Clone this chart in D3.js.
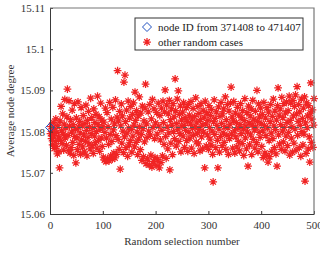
<!DOCTYPE html>
<html>
<head>
<meta charset="utf-8">
<script src="https://cdn.jsdelivr.net/npm/d3@7"></script>
<style>
  body { margin: 0; background: #fff; }
  svg { display: block; }
  text { font-family: "Liberation Serif", "Times New Roman", serif; }
</style>
</head>
<body>
<div id="chart"></div>
<script>
// tick labels
const xTicks = [0, 100, 200, 300, 400, 500];
const yTicks = [15.06, 15.07, 15.08, 15.09, 15.1, 15.11];

// the chosen node range (blue diamond + dashed reference)
const targetX = [0];
const targetY = [15.0810];

// other random cases, selection 1..500
const randomY = [
  15.0795, 15.0812, 15.0783, 15.0801, 15.0768, 15.0822, 15.0790, 15.0759, 15.0808, 15.0776,
  15.0831, 15.0764, 15.0798, 15.0746, 15.0815, 15.0787, 15.0752, 15.0712, 15.0826, 15.0779,
  15.0861, 15.0802, 15.0771, 15.0843, 15.0794, 15.0755, 15.0818, 15.0878, 15.0785, 15.0809,
  15.0767, 15.0836, 15.0903, 15.0791, 15.0754, 15.0875, 15.0813, 15.0748, 15.0829, 15.0761,
  15.0799, 15.0852, 15.0774, 15.0817, 15.0742, 15.0868, 15.0788, 15.0805, 15.0724, 15.0833,
  15.0784, 15.0756, 15.0872, 15.0811, 15.0769, 15.0825, 15.0797, 15.0745, 15.0858, 15.0780,
  15.0814, 15.0763, 15.0839, 15.0792, 15.0751, 15.0820, 15.0776, 15.0864, 15.0803, 15.0741,
  15.0827, 15.0786, 15.0849, 15.0770, 15.0812, 15.0758, 15.0881, 15.0795, 15.0834, 15.0766,
  15.0808, 15.0747, 15.0855, 15.0789, 15.0822, 15.0773, 15.0842, 15.0800, 15.0760, 15.0886,
  15.0817, 15.0779, 15.0836, 15.0752, 15.0806, 15.0869, 15.0785, 15.0828, 15.0764, 15.0811,
  15.0738, 15.0823, 15.0731, 15.0798, 15.0857, 15.0727, 15.0784, 15.0846, 15.0735, 15.0812,
  15.0769, 15.0729, 15.0871, 15.0793, 15.0741, 15.0830, 15.0776, 15.0733, 15.0859, 15.0804,
  15.0748, 15.0819, 15.0736, 15.0877, 15.0790, 15.0745, 15.0835, 15.0948, 15.0781, 15.0826,
  15.0757, 15.0849, 15.0709, 15.0814, 15.0867, 15.0772, 15.0838, 15.0801, 15.0749, 15.0920,
  15.0787, 15.0937, 15.0824, 15.0761, 15.0852, 15.0796, 15.0740, 15.0874, 15.0809, 15.0768,
  15.0833, 15.0778, 15.0861, 15.0805, 15.0750, 15.0842, 15.0789, 15.0870, 15.0816, 15.0763,
  15.0896, 15.0827, 15.0774, 15.0851, 15.0799, 15.0744, 15.0838, 15.0782, 15.0884, 15.0812,
  15.0756, 15.0845, 15.0793, 15.0730, 15.0862, 15.0807, 15.0739, 15.0826, 15.0775, 15.0857,
  15.0915, 15.0722, 15.0819, 15.0786, 15.0734, 15.0848, 15.0801, 15.0719, 15.0866, 15.0792,
  15.0743, 15.0831, 15.0714, 15.0878, 15.0810, 15.0727, 15.0855, 15.0783, 15.0737, 15.0821,
  15.0718, 15.0846, 15.0794, 15.0732, 15.0869, 15.0813, 15.0712, 15.0839, 15.0780, 15.0725,
  15.0857, 15.0803, 15.0741, 15.0874, 15.0822, 15.0769, 15.0848, 15.0901, 15.0788, 15.0735,
  15.0864, 15.0811, 15.0758, 15.0843, 15.0797, 15.0876, 15.0707, 15.0829, 15.0772, 15.0855,
  15.0816, 15.0744, 15.0868, 15.0800, 15.0836, 15.0783, 15.0928, 15.0851, 15.0765, 15.0820,
  15.0879, 15.0806, 15.0899, 15.0776, 15.0842, 15.0795, 15.0862, 15.0751, 15.0828, 15.0813,
  15.0847, 15.0789, 15.0870, 15.0815, 15.0762, 15.0834, 15.0803, 15.0858, 15.0778, 15.0825,
  15.0752, 15.0866, 15.0798, 15.0840, 15.0784, 15.0819, 15.0873, 15.0760, 15.0831, 15.0808,
  15.0856, 15.0791, 15.0747, 15.0837, 15.0812, 15.0882, 15.0775, 15.0823, 15.0796, 15.0861,
  15.0770, 15.0844, 15.0805, 15.0753, 15.0829, 15.0868, 15.0787, 15.0816, 15.0758, 15.0852,
  15.0799, 15.0835, 15.0712, 15.0874, 15.0818, 15.0765, 15.0846, 15.0792, 15.0827, 15.0757,
  15.0863, 15.0810, 15.0782, 15.0839, 15.0768, 15.0854, 15.0801, 15.0745, 15.0678, 15.0824,
  15.0877, 15.0793, 15.0832, 15.0761, 15.0848, 15.0815, 15.0779, 15.0712, 15.0860, 15.0806,
  15.0750, 15.0837, 15.0788, 15.0871, 15.0820, 15.0766, 15.0843, 15.0797, 15.0855, 15.0774,
  15.0812, 15.0884, 15.0757, 15.0829, 15.0791, 15.0866, 15.0809, 15.0745, 15.0850, 15.0783,
  15.0818, 15.0869, 15.0908, 15.0794, 15.0836, 15.0760, 15.0826, 15.0873, 15.0802, 15.0748,
  15.0845, 15.0787, 15.0822, 15.0763, 15.0859, 15.0808, 15.0776, 15.0840, 15.0753, 15.0817,
  15.0868, 15.0795, 15.0834, 15.0771, 15.0851, 15.0806, 15.0742, 15.0827, 15.0880, 15.0785,
  15.0813, 15.0758, 15.0846, 15.0799, 15.0716, 15.0862, 15.0821, 15.0768, 15.0838, 15.0792,
  15.0855, 15.0744, 15.0816, 15.0876, 15.0781, 15.0830, 15.0804, 15.0760, 15.0849, 15.0811,
  15.0773, 15.0900, 15.0825, 15.0751, 15.0867, 15.0798, 15.0836, 15.0786, 15.0857, 15.0819,
  15.0764, 15.0842, 15.0802, 15.0737, 15.0871, 15.0815, 15.0748, 15.0833, 15.0790, 15.0742,
  15.0858, 15.0809, 15.0726, 15.0847, 15.0778, 15.0739, 15.0824, 15.0866, 15.0796, 15.0752,
  15.0837, 15.0783, 15.0879, 15.0814, 15.0761, 15.0850, 15.0805, 15.0746, 15.0828, 15.0716,
  15.0863, 15.0906, 15.0792, 15.0840, 15.0770, 15.0855, 15.0817, 15.0757, 15.0883, 15.0801,
  15.0834, 15.0775, 15.0868, 15.0810, 15.0753, 15.0845, 15.0789, 15.0872, 15.0822, 15.0766,
  15.0851, 15.0798, 15.0886, 15.0743, 15.0827, 15.0869, 15.0784, 15.0812, 15.0750, 15.0876,
  15.0838, 15.0772, 15.0861, 15.0806, 15.0889, 15.0755, 15.0843, 15.0909, 15.0791, 15.0825,
  15.0866, 15.0761, 15.0848, 15.0815, 15.0740, 15.0879, 15.0800, 15.0832, 15.0768, 15.0857,
  15.0794, 15.0884, 15.0680, 15.0821, 15.0747, 15.0870, 15.0809, 15.0838, 15.0758, 15.0863,
  15.0787, 15.0726, 15.0845, 15.0918, 15.0774, 15.0830, 15.0853, 15.0762, 15.0816, 15.0880
];

const legendLabels = ["node ID from 371408 to 471407", "other random cases"];

const W = 320, H = 253;
const margin = { top: 8, right: 6, bottom: 39, left: 50 };

const svg = d3.select("#chart").append("svg")
  .attr("width", W)
  .attr("height", H);

const x = d3.scaleLinear().domain([0, 500]).range([margin.left, W - margin.right]);
const y = d3.scaleLinear().domain([15.06, 15.11]).range([H - margin.bottom, margin.top]);

const axisColor = "#3a3a3a";
const red = "#f02424";
const blue = "#1f4fbf";

// asterisk marker: 4 strokes through the centre
function asterisk(r) {
  const d = r * Math.SQRT1_2;
  return `M${-r},0L${r},0M0,${-r}L0,${r}M${-d},${-d}L${d},${d}M${-d},${d}L${d},${-d}`;
}
function diamond(r) {
  return `M0,${-r}L${r},0L0,${r}L${-r},0Z`;
}

// points
svg.append("g")
  .selectAll("path")
  .data(randomY)
  .enter()
  .append("path")
  .attr("transform", (d, i) => `translate(${x(i + 1)},${y(d)})`)
  .attr("d", asterisk(3.9))
  .attr("stroke", red)
  .attr("stroke-width", 1.25)
  .attr("fill", "none");

// dashed reference at the target value
svg.append("line")
  .attr("x1", x(0)).attr("x2", x(500))
  .attr("y1", y(targetY[0])).attr("y2", y(targetY[0]))
  .attr("stroke", "#5a5a5a")
  .attr("stroke-width", 1)
  .attr("stroke-dasharray", "4,3");

svg.append("g")
  .selectAll("path")
  .data(targetY)
  .enter()
  .append("path")
  .attr("transform", (d, i) => `translate(${x(targetX[i])},${y(d)})`)
  .attr("d", diamond(4.5))
  .attr("stroke", blue)
  .attr("stroke-width", 1)
  .attr("fill", "none");

// Axes (ticks inward)
const gx = svg.append("g")
  .attr("transform", "translate(0," + y.range()[0] + ")")
  .call(d3.axisBottom(x).tickValues(xTicks).tickSizeInner(-3).tickSizeOuter(0).tickPadding(7));

const gy = svg.append("g")
  .attr("transform", "translate(" + x.range()[0] + ",0)")
  .call(d3.axisLeft(y).tickValues(yTicks).tickFormat(d3.format("~g")).tickSizeInner(-3).tickSizeOuter(0).tickPadding(5));

[gx, gy].forEach(g => {
  g.select(".domain").attr("stroke", axisColor);
  g.selectAll(".tick line").attr("stroke", axisColor);
  g.selectAll(".tick text")
    .attr("fill", "#333")
    .style("font-size", "11px")
    .style("font-family", "'Liberation Serif', serif");
});

// box top/right
svg.append("path")
  .attr("d", `M${x(0)},${y(15.11)}H${x(500)}V${y(15.06)}`)
  .attr("stroke", "#777")
  .attr("stroke-width", 1.2)
  .attr("fill", "none");

// labels
svg.append("text")
  .attr("x", (x(0) + x(500)) / 2)
  .attr("y", 245)
  .attr("text-anchor", "middle")
  .attr("fill", "#333")
  .style("font-size", "11px")
  .text("Random selection number");

svg.append("text")
  .attr("transform", `translate(14,${(y(15.06) + y(15.11)) / 2}) rotate(-90)`)
  .attr("text-anchor", "middle")
  .attr("fill", "#333")
  .style("font-size", "11px")
  .text("Average node degree");

// Legend
const lg = svg.append("g").attr("transform", "translate(135,18)");
lg.append("rect")
  .attr("width", 168).attr("height", 32)
  .attr("fill", "#fff")
  .attr("stroke", "#333")
  .attr("stroke-width", 1);
lg.append("path")
  .attr("transform", "translate(12,9)")
  .attr("d", diamond(4.5))
  .attr("stroke", blue).attr("fill", "none");
lg.append("path")
  .attr("transform", "translate(12,24)")
  .attr("d", asterisk(3.9))
  .attr("stroke", red).attr("stroke-width", 1.25).attr("fill", "none");
lg.selectAll("text.lab")
  .data(legendLabels)
  .enter()
  .append("text")
  .attr("class", "lab")
  .attr("x", 23)
  .attr("y", (d, i) => 13 + i * 15)
  .attr("fill", "#222")
  .style("font-size", "11px")
  .text(d => d);
</script>
</body>
</html>
